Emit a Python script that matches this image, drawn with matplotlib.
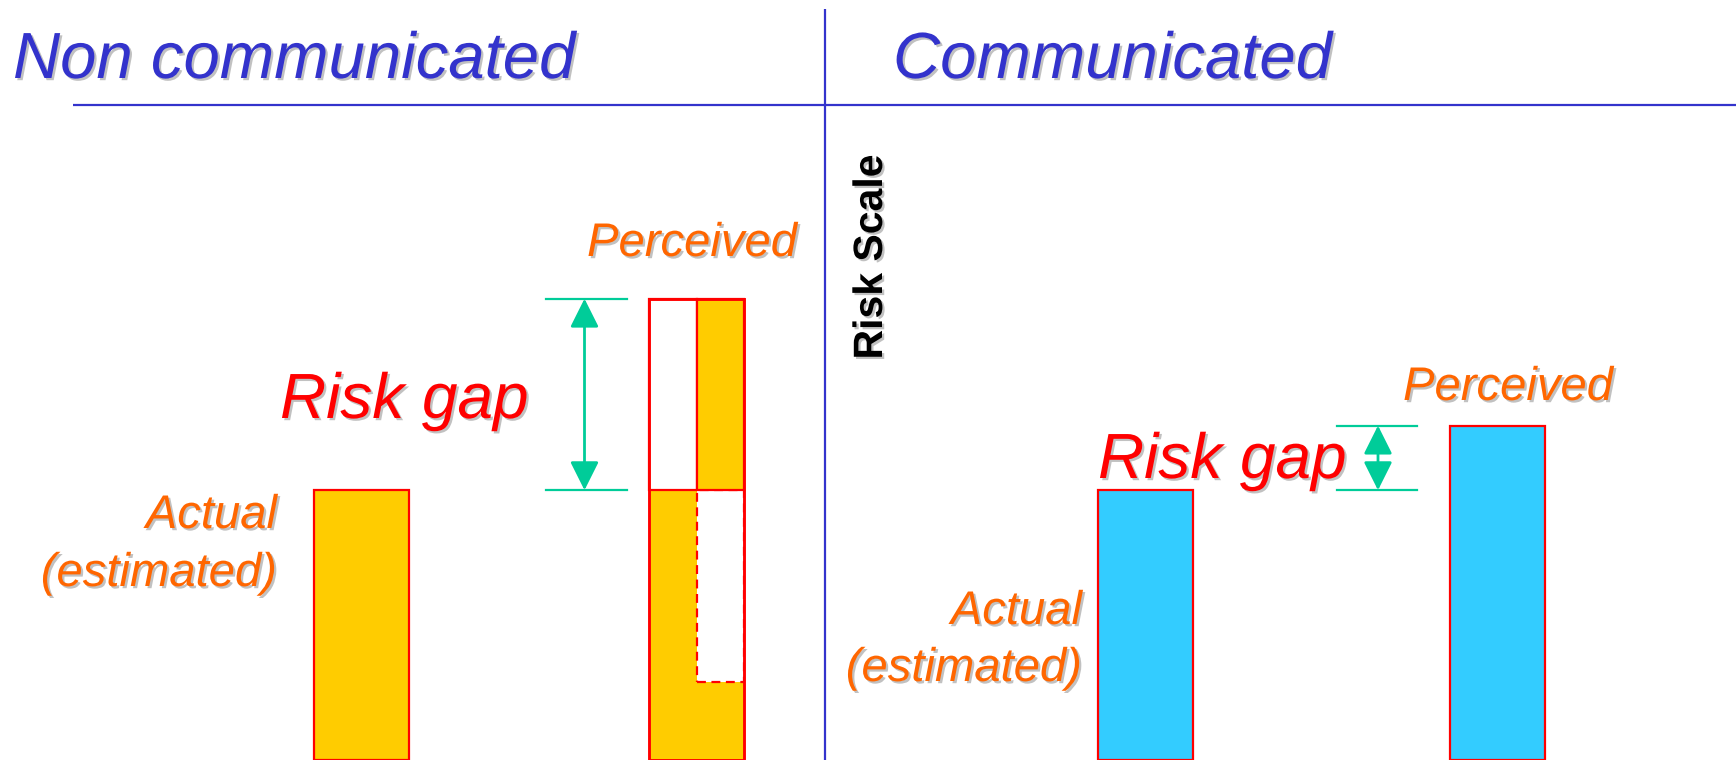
import matplotlib
matplotlib.use("Agg")
import matplotlib.pyplot as plt
import matplotlib.patheffects as pe
from matplotlib.transforms import Affine2D

# Risk levels on a 0-100 scale
panels = ["Non communicated", "Communicated"]
actual_risk = [35.5, 35.5]
perceived_risk = [60.7, 44.0]

W, H = 1736, 760
YELLOW = "#FFCC00"
CYAN = "#33CCFF"
RED = "#FF0000"
ORANGE = "#FF6600"
BLUE = "#3333CC"
TEAL = "#00CC99"

plt.rcParams["font.family"] = ["Liberation Sans", "DejaVu Sans"]

fig = plt.figure(figsize=(W / 100, H / 100), dpi=100)
ax = fig.add_axes([0, 0, 1, 1])
ax.set_xlim(0, W)
ax.set_ylim(0, 100)
ax.axis("off")

# top-down pixel transform for labels and rules
px = Affine2D().scale(1 / W, -1 / H).translate(0, 1) + fig.transFigure

shadow = [pe.withSimplePatchShadow(offset=(1.6, -1.6), shadow_rgbFace="#777777", alpha=0.45)]


def label(x, y, s, size, color, ha="left", style="italic", weight="normal", rot=0, va="baseline"):
    ax.text(x, y, s, transform=px, fontsize=size, color=color, ha=ha, va=va,
            style=style, weight=weight, rotation=rot, path_effects=shadow)


# panel rules
ax.plot([73, W], [105, 105], transform=px, color=BLUE, lw=1.6, solid_capstyle="butt")
ax.plot([825, 825], [9, H], transform=px, color=BLUE, lw=1.6, solid_capstyle="butt")

# panel titles
label(13, 78, panels[0], 47, BLUE)
label(893, 78, panels[1], 47, BLUE)
label(871, 257, "Risk Scale", 29.5, "black", ha="center", style="normal", weight="bold",
      rot=90, va="center")

bw = 95
lw_edge = 1.6

# ---- non communicated panel ----
a, p = actual_risk[0], perceived_risk[0]
gap = p - a
ax.bar(361, a, width=bw, color=YELLOW, edgecolor=RED, lw=lw_edge)

xc = 696.5
xl, xr = xc - bw / 4, xc + bw / 4
ax.bar(xl, a, width=bw / 2, color=YELLOW, lw=0)
ax.bar(xl, gap, bottom=a, width=bw / 2, color="white", edgecolor=RED, lw=lw_edge)
ax.bar(xr, a - gap, width=bw / 2, color=YELLOW, lw=0)
ax.bar(xr, gap, bottom=a - gap, width=bw / 2, color="white", edgecolor=RED,
       lw=lw_edge, linestyle=(0, (4, 2.5)))
ax.bar(xr, gap, bottom=a, width=bw / 2, color=YELLOW, edgecolor=RED, lw=lw_edge)
ax.bar(xc, p, width=bw, fill=False, edgecolor=RED, lw=lw_edge * 1.3)

# gap marker
for yv in (a, p):
    ax.plot([546, 627], [yv, yv], color=TEAL, lw=1.6)
ax.annotate("", xy=(584.5, p), xytext=(584.5, a),
            arrowprops=dict(arrowstyle="<|-|>,head_length=0.8,head_width=0.4",
                            color=TEAL, lw=2, shrinkA=0, shrinkB=0, mutation_scale=22))

label(280, 418, "Risk gap", 46, RED)
label(587, 256, "Perceived", 34, ORANGE)
label(277, 528, "Actual", 34, ORANGE, ha="right")
label(277, 586, "(estimated)", 34, ORANGE, ha="right")

# ---- communicated panel ----
a, p = actual_risk[1], perceived_risk[1]
ax.bar(1145, a, width=bw, color=CYAN, edgecolor=RED, lw=lw_edge)
ax.bar(1497, p, width=bw, color=CYAN, edgecolor=RED, lw=lw_edge)

for yv in (a, p):
    ax.plot([1337, 1417], [yv, yv], color=TEAL, lw=1.6)
ax.annotate("", xy=(1378, p), xytext=(1378, a),
            arrowprops=dict(arrowstyle="<|-|>,head_length=0.8,head_width=0.4",
                            color=TEAL, lw=2, shrinkA=0, shrinkB=0, mutation_scale=22))

label(1098, 478, "Risk gap", 46, RED)
label(1403, 400, "Perceived", 34, ORANGE)
label(1082, 624, "Actual", 34, ORANGE, ha="right")
label(1082, 681, "(estimated)", 34, ORANGE, ha="right")

fig.savefig("out.png", dpi=100, facecolor="white")
